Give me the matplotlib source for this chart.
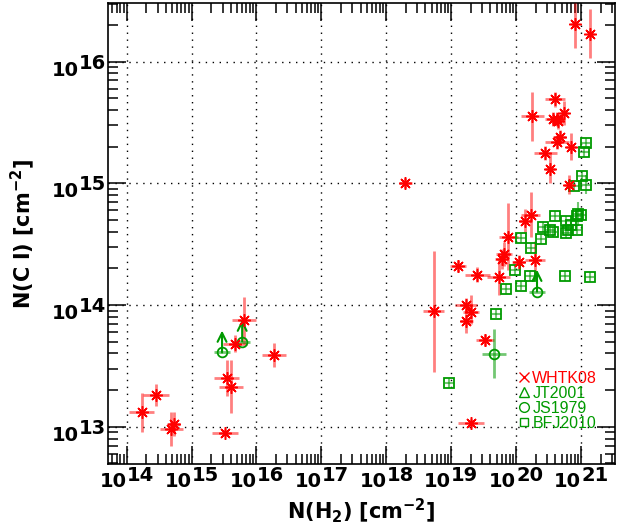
import numpy as np
import matplotlib
matplotlib.use("Agg")
import matplotlib.pyplot as plt
from matplotlib.lines import Line2D
from matplotlib.ticker import LogLocator, NullFormatter

# values, stored as log10 column densities; errors in dex
# WHTK08 (red asterisks)
whtk_lognh2 = [14.23, 14.45, 14.69, 14.73, 15.51, 15.54, 15.61, 15.67, 15.81, 16.27,
               18.29, 18.73, 19.10, 19.40, 19.22, 19.30, 19.23, 19.52, 19.31, 19.73,
               19.88, 19.81, 19.78, 20.04, 20.29, 20.22, 20.14, 20.82, 20.45, 20.52,
               20.84, 20.67, 20.63, 20.25, 20.57, 20.63, 20.65, 20.74, 20.60, 20.90,
               21.14]
whtk_logncl = [13.12, 13.26, 12.98, 13.02, 12.95, 13.40, 13.33, 13.68, 13.88, 13.59,
               15.00, 13.95, 14.32, 14.25, 14.00, 13.94, 13.87, 13.71, 13.03, 14.23,
               14.56, 14.42, 14.38, 14.35, 14.37, 14.74, 14.69, 14.99, 15.25, 15.12,
               15.30, 15.38, 15.34, 15.55, 15.53, 15.53, 15.51, 15.58, 15.69, 16.31,
               16.23]
whtk_xerr = [0.19, 0.20, 0.18, 0.10, 0.20, 0.19, 0.18, 0.18, 0.19, 0.19,
             0.10, 0.16, 0.12, 0.19, 0.17, 0.12, 0.10, 0.14, 0.20, 0.18,
             0.15, 0.12, 0.10, 0.10, 0.15, 0.15, 0.10, 0.08, 0.18, 0.08,
             0.08, 0.10, 0.18, 0.18, 0.12, 0.10, 0.08, 0.06, 0.15, 0.05,
             0.05]
whtk_yerr_lo = [0.16, 0.09, 0.14, 0.10, 0.03, 0.15, 0.22, 0.07, 0.20, 0.10,
                0.04, 0.50, 0.05, 0.06, 0.06, 0.10, 0.10, 0.05, 0.03, 0.15,
                0.27, 0.10, 0.08, 0.06, 0.16, 0.18, 0.10, 0.08, 0.06, 0.12,
                0.11, 0.06, 0.06, 0.20, 0.06, 0.06, 0.06, 0.10, 0.06, 0.20,
                0.20]
whtk_yerr_hi = [0.16, 0.09, 0.14, 0.10, 0.03, 0.15, 0.22, 0.07, 0.19, 0.10,
                0.04, 0.49, 0.05, 0.06, 0.06, 0.14, 0.10, 0.05, 0.03, 0.15,
                0.28, 0.10, 0.08, 0.06, 0.16, 0.19, 0.10, 0.08, 0.06, 0.12,
                0.11, 0.06, 0.06, 0.20, 0.06, 0.06, 0.06, 0.10, 0.06, 0.17,
                0.20]

# BFJ2010 (green squares)
bfj_lognh2 = [18.97, 19.69, 19.85, 20.08, 20.21, 19.98, 20.75, 21.13, 20.08, 20.23,
              20.38, 20.41, 20.52, 20.59, 20.76, 20.80, 20.77, 20.93, 20.95, 21.00,
              20.93, 20.85, 20.56, 20.89, 21.07, 21.01, 21.07, 21.05]
bfj_logncl = [13.36, 13.93, 14.13, 14.16, 14.24, 14.29, 14.24, 14.23, 14.55, 14.47,
              14.54, 14.64, 14.62, 14.73, 14.69, 14.62, 14.59, 14.62, 14.75, 14.74,
              14.73, 14.66, 14.60, 14.98, 14.99, 15.06, 15.33, 15.26]
bfj_xerr = [0.07] * len(bfj_lognh2)
bfj_yerr = [0.04, 0.04, 0.04, 0.04, 0.04, 0.04, 0.04, 0.04, 0.04, 0.04,
            0.04, 0.04, 0.04, 0.04, 0.04, 0.04, 0.04, 0.04, 0.10, 0.04,
            0.04, 0.04, 0.04, 0.04, 0.08, 0.04, 0.04, 0.04]

# JS1979 (green circles), three of them lower limits
js_lognh2 = [15.47, 15.78, 19.66, 20.32]
js_logncl = [13.61, 13.70, 13.60, 14.11]
js_xerr = [0.13, 0.12, 0.18, 0.12]
js_yerr = [0.0, 0.0, 0.20, 0.0]
js_lolim = [True, True, False, True]
lolim_len = 0.18

legend_labels = ["WHTK08", "JT2001", "JS1979", "BFJ2010"]

RED = "#ff0000"
GREEN = "#009a00"


def dex_to_lin(logv, lo, hi):
    logv = np.asarray(logv, dtype=float)
    v = 10 ** logv
    return v, np.vstack([v - 10 ** (logv - np.asarray(lo)), 10 ** (logv + np.asarray(hi)) - v])


fig = plt.figure(figsize=(6.32, 5.31), dpi=100)
ax = fig.add_axes([0.171, 0.126, 0.802, 0.868])
ax.set_xscale("log")
ax.set_yscale("log")
ax.set_xlim(10 ** 13.715, 10 ** 21.52)
ax.set_ylim(10 ** 12.693, 10 ** 16.48)

# WHTK08
x, xe = dex_to_lin(whtk_lognh2, whtk_xerr, whtk_xerr)
y, ye = dex_to_lin(whtk_logncl, whtk_yerr_lo, whtk_yerr_hi)
ax.errorbar(x, y, xerr=xe, yerr=ye, fmt="none", ecolor=RED, alpha=0.5, elinewidth=2, zorder=3)
ax.plot(x, y, linestyle="none", marker=(8, 2, 0), ms=9, mew=1.1, color=RED, zorder=5)

# BFJ2010
x, xe = dex_to_lin(bfj_lognh2, bfj_xerr, bfj_xerr)
y, ye = dex_to_lin(bfj_logncl, bfj_yerr, bfj_yerr)
ax.errorbar(x, y, xerr=xe, yerr=ye, fmt="none", ecolor=GREEN, alpha=0.55, elinewidth=1.5, zorder=3)
ax.plot(x, y, linestyle="none", marker="s", ms=7, mfc="none", mec=GREEN, mew=1.3, zorder=4)

# JS1979
x, xe = dex_to_lin(js_lognh2, js_xerr, js_xerr)
y, ye = dex_to_lin(js_logncl, js_yerr, js_yerr)
ax.errorbar(x, y, xerr=xe, yerr=ye, fmt="none", ecolor=GREEN, alpha=0.55, elinewidth=2, zorder=3)
ax.plot(x, y, linestyle="none", marker="o", ms=7, mfc="none", mec=GREEN, mew=1.3, zorder=4)
for xi, yi, lim in zip(x, y, js_lolim):
    if lim:
        ax.annotate("", xy=(xi, yi * 10 ** lolim_len), xytext=(xi, yi),
                    arrowprops=dict(arrowstyle="->", color=GREEN, lw=1.5, mutation_scale=16,
                                    shrinkA=0, shrinkB=0), zorder=4)

# axes styling
ax.grid(True, which="major", color="k", linestyle=(0, (1, 4)), linewidth=1)
for sp in ax.spines.values():
    sp.set_linewidth(1.2)
for axis in (ax.xaxis, ax.yaxis):
    axis.set_major_locator(LogLocator(base=10, numticks=20))
    axis.set_minor_locator(LogLocator(base=10, subs=np.arange(2, 10), numticks=20))
    axis.set_minor_formatter(NullFormatter())
ax.tick_params(which="both", direction="in", top=True, right=True,
               labelbottom=False, labelleft=False)
ax.tick_params(which="major", length=13, width=1.1)
ax.tick_params(which="minor", length=7, width=1.1)

# tick labels written as 10 + exponent, same size
tick_font = dict(fontsize=14, fontweight="bold", color="k")
for k in range(14, 22):
    ax.annotate("10", xy=(10.0 ** k, 0), xycoords=("data", "axes fraction"),
                xytext=(0, -16.3), textcoords="offset points", ha="right", va="baseline", **tick_font)
    ax.annotate(str(k), xy=(10.0 ** k, 0), xycoords=("data", "axes fraction"),
                xytext=(0, -12.0), textcoords="offset points", ha="left", va="baseline", **tick_font)
for k in range(13, 17):
    ax.annotate("10", xy=(0, 10.0 ** k), xycoords=("axes fraction", "data"),
                xytext=(-20.9, -10.2), textcoords="offset points", ha="right", va="baseline", **tick_font)
    ax.annotate(str(k), xy=(0, 10.0 ** k), xycoords=("axes fraction", "data"),
                xytext=(-20.9, -5.0), textcoords="offset points", ha="left", va="baseline", **tick_font)

ax.set_xlabel(r"$\mathbf{N(H_2)\ [cm^{-2}]}$", fontsize=15)
ax.xaxis.set_label_coords(0.5, -0.07)
ax.set_ylabel(r"$\mathbf{N(C\ I)\ [cm^{-2}]}$", fontsize=15)
ax.yaxis.set_label_coords(-0.14, 0.5)

handles = [
    Line2D([], [], linestyle="none", marker="x", ms=7, mew=1.0, color=RED),
    Line2D([], [], linestyle="none", marker="^", ms=7, mfc="none", mec=GREEN, mew=1.0),
    Line2D([], [], linestyle="none", marker="o", ms=7, mfc="none", mec=GREEN, mew=1.0),
    Line2D([], [], linestyle="none", marker="s", ms=6, mfc="none", mec=GREEN, mew=1.0),
]
ax.legend(handles, legend_labels, loc="lower left", bbox_to_anchor=(0.807, 0.072),
          frameon=False, prop=dict(family="Liberation Sans", size=11.5),
          handlelength=0.8, handletextpad=0.15,
          labelspacing=0.0, borderpad=0, borderaxespad=0,
          labelcolor=[RED, GREEN, GREEN, GREEN])

fig.savefig("out.png", dpi=100)
